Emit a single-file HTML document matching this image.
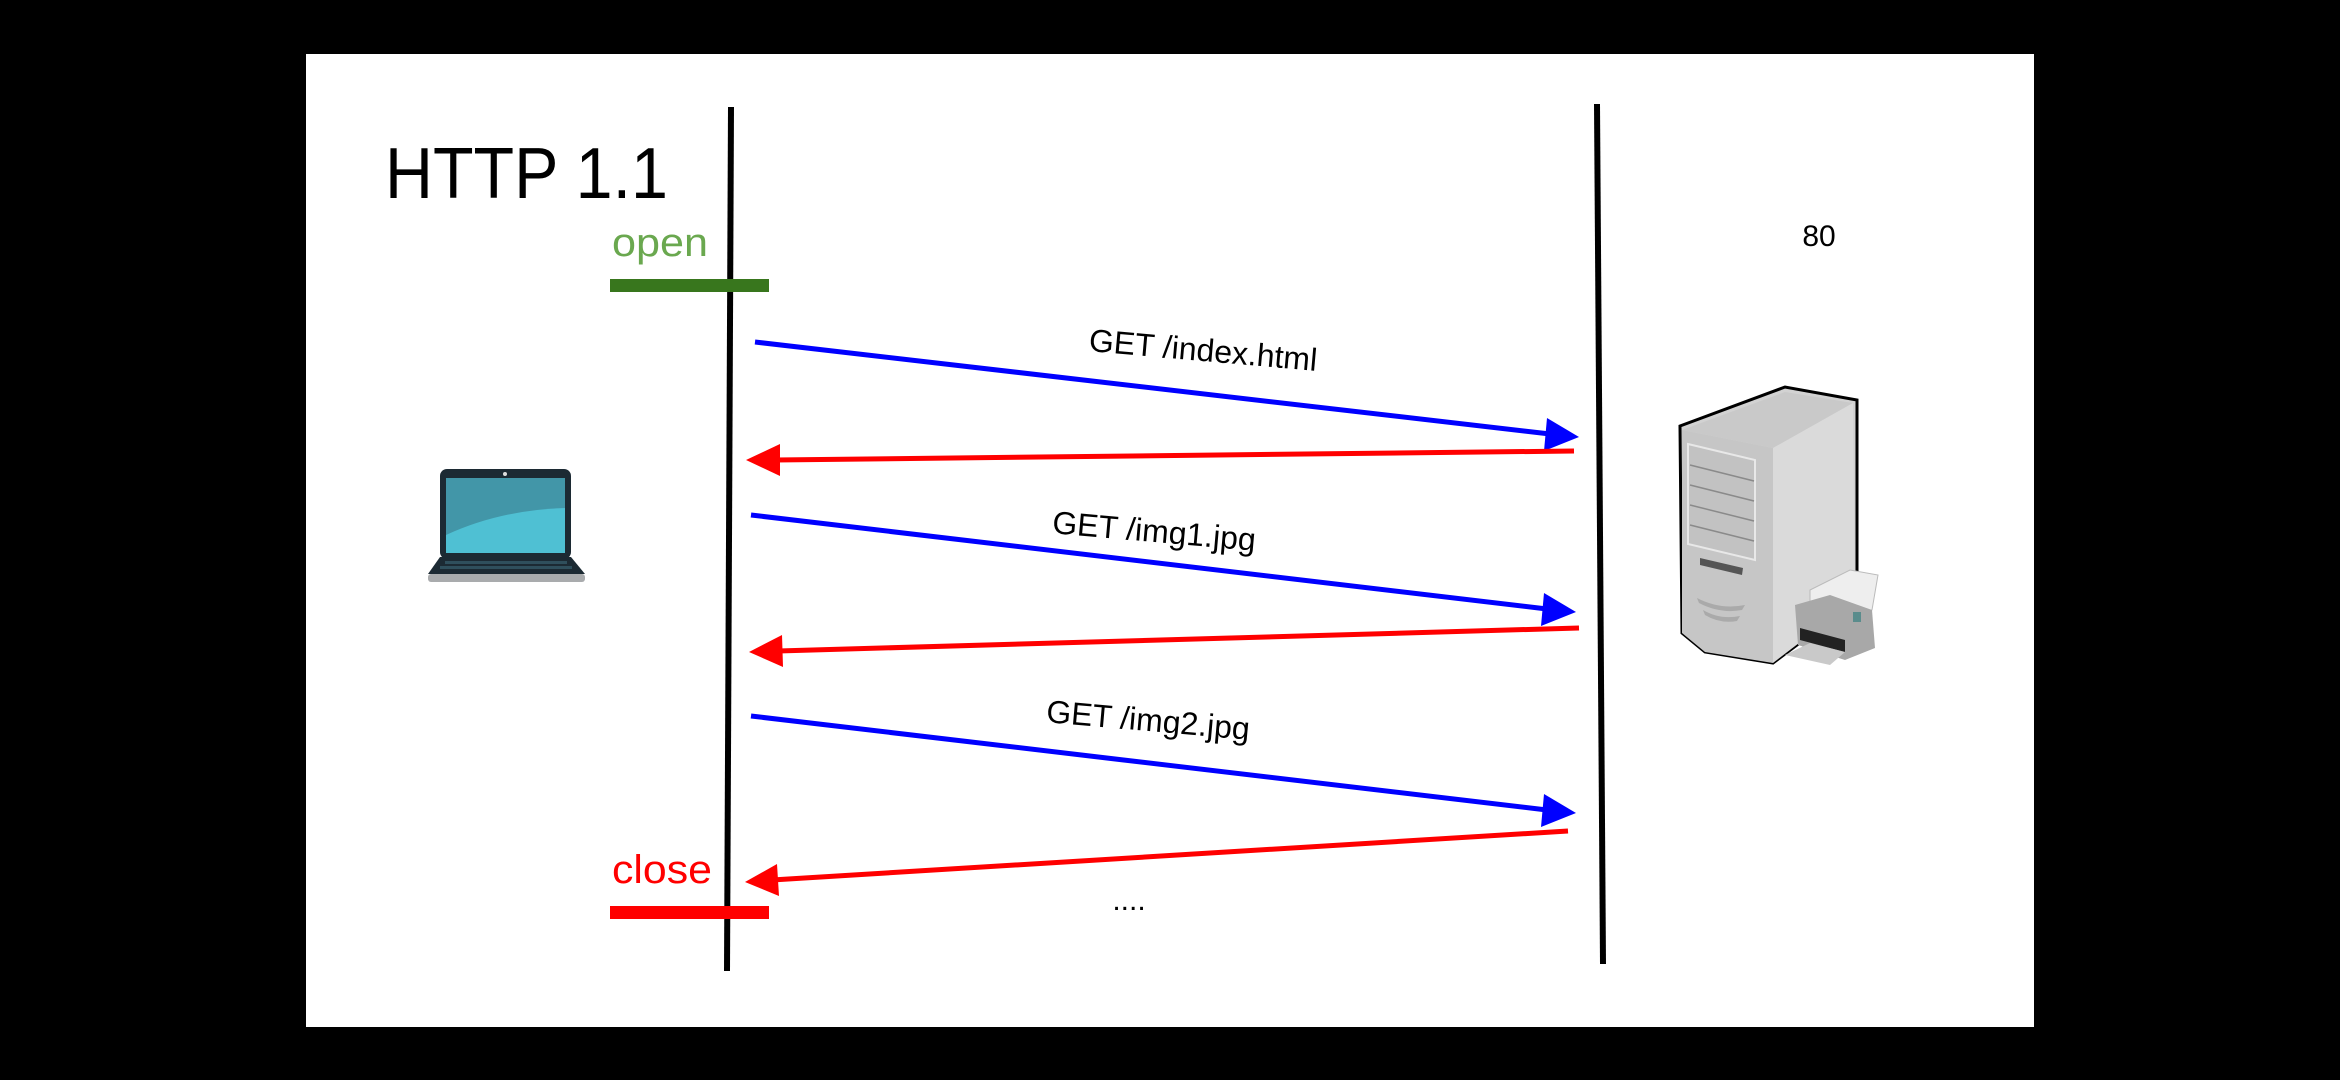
<!DOCTYPE html>
<html><head><meta charset="utf-8"><style>
html,body{margin:0;padding:0;background:#000;}
svg{display:block}
text{font-family:"Liberation Sans",Arial,sans-serif}
</style></head><body>
<svg width="2340" height="1080" viewBox="0 0 2340 1080" xmlns="http://www.w3.org/2000/svg">
<rect x="0" y="0" width="2340" height="1080" fill="#000"/>
<rect x="306" y="54" width="1728" height="973" fill="#fff"/>
<!-- lifelines -->
<line x1="731" y1="107" x2="727" y2="971" stroke="#000" stroke-width="6"/>
<line x1="1597" y1="104" x2="1603" y2="964" stroke="#000" stroke-width="6"/>
<!-- title -->
<text x="385" y="198" font-size="72" fill="#000" textLength="283" lengthAdjust="spacingAndGlyphs">HTTP 1.1</text>
<text x="612" y="256" font-size="40" fill="#6aa84f" textLength="96" lengthAdjust="spacingAndGlyphs">open</text>
<rect x="610" y="279" width="159" height="13" fill="#38761d"/>
<text x="612" y="883" font-size="40" fill="#ff0000" textLength="100" lengthAdjust="spacingAndGlyphs">close</text>
<rect x="610" y="906" width="159" height="13" fill="#ff0000"/>
<text x="1819" y="246" font-size="30" fill="#000" text-anchor="middle">80</text>
<text x="1129" y="910" font-size="30" fill="#000" text-anchor="middle">....</text>
<!-- arrows -->
<g stroke-width="5" fill="none">
<line x1="755" y1="342" x2="1550" y2="434" stroke="#0000ff"/>
<path d="M1579,437 L1544,451 L1547,418 z" fill="#0000ff" stroke="none"/>
<line x1="1574" y1="451" x2="775" y2="460" stroke="#ff0000"/>
<path d="M746,460 L780,444 L780,476 z" fill="#ff0000" stroke="none"/>
<line x1="751" y1="515" x2="1547" y2="609" stroke="#0000ff"/>
<path d="M1576,612 L1541,626 L1544,593 z" fill="#0000ff" stroke="none"/>
<line x1="1579" y1="628" x2="778" y2="651" stroke="#ff0000"/>
<path d="M749,652 L782,635 L783,667 z" fill="#ff0000" stroke="none"/>
<line x1="751" y1="716" x2="1547" y2="810" stroke="#0000ff"/>
<path d="M1576,813 L1541,827 L1544,794 z" fill="#0000ff" stroke="none"/>
<line x1="1568" y1="831" x2="772" y2="880" stroke="#ff0000"/>
<path d="M745,882 L777,864 L779,896 z" fill="#ff0000" stroke="none"/>
</g>
<text x="1203" y="361" font-size="32" fill="#000" text-anchor="middle" transform="rotate(5 1203 352)">GET /index.html</text>
<text x="1154" y="542" font-size="32" fill="#000" text-anchor="middle" transform="rotate(5 1154 533)">GET /img1.jpg</text>
<text x="1148" y="731" font-size="32" fill="#000" text-anchor="middle" transform="rotate(5 1148 722)">GET /img2.jpg</text>
<!-- laptop -->
<g>
<rect x="440" y="469" width="131" height="90" rx="7" fill="#1c2a33"/>
<rect x="446" y="478" width="119" height="75" fill="#4296a8"/>
<path d="M446,535 Q500,510 565,508 L565,553 L446,553 z" fill="#4fc0d3"/>
<circle cx="505" cy="474" r="2" fill="#ddd"/>
<path d="M440,557 L571,557 L585,574 L428,574 z" fill="#1c2a33"/>
<g fill="#2f4f5c"><rect x="445" y="561" width="122" height="3"/><rect x="440" y="566" width="132" height="3"/></g>
<rect x="428" y="574" width="157" height="8" rx="3" fill="#a9abad"/>
</g>
<!-- server -->
<g>
<path d="M1680,426 L1785,387 L1857,400 L1857,600 L1773,663 L1705,652 L1682,633 z" fill="#d2d2d2" stroke="#000" stroke-width="3"/>
<path d="M1682,430 L1773,448 L1773,663 L1705,652 L1682,633 z" fill="#c6c6c6"/>
<path d="M1682,430 L1785,392 L1853,403 L1773,448 z" fill="#c9c9c9"/>
<path d="M1773,448 L1853,403 L1855,600 L1773,663 z" fill="#dadada"/>
<path d="M1688,444 L1755,460 L1755,560 L1688,544 z" fill="#c2c2c2" stroke="#e8e8e8" stroke-width="2"/>
<g stroke="#8a8a8a" stroke-width="1.5"><line x1="1690" y1="465" x2="1754" y2="481"/><line x1="1690" y1="485" x2="1754" y2="501"/><line x1="1690" y1="505" x2="1754" y2="521"/><line x1="1690" y1="525" x2="1754" y2="541"/></g>
<path d="M1700,558 L1743,568 L1742,575 L1700,565 z" fill="#555"/>
<g fill="#aaa"><path d="M1697,598 Q1720,610 1745,605 L1742,610 Q1720,614 1699,603z"/><path d="M1703,610 Q1720,620 1740,616 L1737,621 Q1720,624 1705,615z"/></g>
<path d="M1810,590 L1850,570 L1878,575 L1872,610 L1810,620 z" fill="#eee" stroke="#bbb"/>
<path d="M1795,605 L1830,595 L1872,610 L1875,648 L1845,660 L1798,645 z" fill="#a8a8a8"/>
<path d="M1800,628 L1845,640 L1845,652 L1800,640 z" fill="#222"/>
<path d="M1785,655 L1810,643 L1845,652 L1830,665 z" fill="#c9c9c9"/>
<rect x="1853" y="612" width="8" height="10" fill="#5a8c8c"/>
</g>
</svg>
</body></html>
